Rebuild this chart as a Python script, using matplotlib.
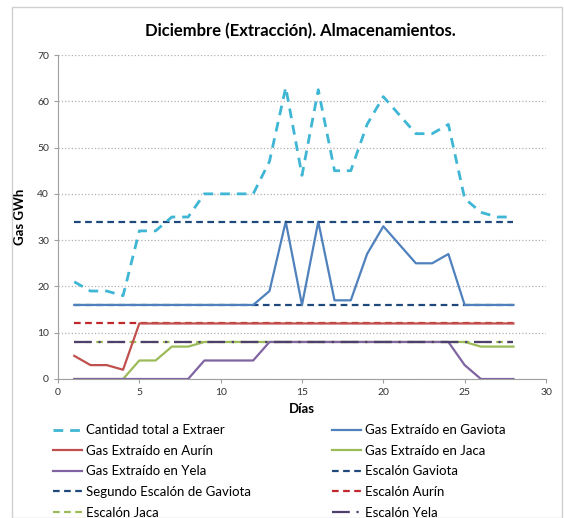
import matplotlib
matplotlib.use("Agg")
import matplotlib.pyplot as plt
from matplotlib.patches import Rectangle

plt.rcParams['font.family'] = ['Lato', 'DejaVu Sans']

dias = list(range(1, 29))

total_extraer = [21, 19, 19, 18, 32, 32, 35, 35, 40, 40, 40, 40, 47, 63,
                 44, 62.5, 45, 45, 55, 61, 57, 53, 53, 55, 39, 36, 35, 35]
gaviota = [16, 16, 16, 16, 16, 16, 16, 16, 16, 16, 16, 16, 19, 34,
           16, 34, 17, 17, 27, 33, 29, 25, 25, 27, 16, 16, 16, 16]
aurin = [5, 3, 3, 2, 12, 12, 12, 12, 12, 12, 12, 12, 12, 12,
         12, 12, 12, 12, 12, 12, 12, 12, 12, 12, 12, 12, 12, 12]
jaca = [0, 0, 0, 0, 4, 4, 7, 7, 8, 8, 8, 8, 8, 8,
        8, 8, 8, 8, 8, 8, 8, 8, 8, 8, 8, 7, 7, 7]
yela = [0, 0, 0, 0, 0, 0, 0, 0, 4, 4, 4, 4, 8, 8,
        8, 8, 8, 8, 8, 8, 8, 8, 8, 8, 3, 0, 0, 0]

escalon_gaviota = 34
segundo_escalon_gaviota = 16
escalon_aurin = 12
escalon_jaca = 8
escalon_yela = 8

fig = plt.figure(figsize=(5.64, 5.18), dpi=100)
ax = fig.add_axes([58 / 564, 1 - 379 / 518, (546 - 58) / 564, (379 - 55) / 518])

# chart frame
fig.patches.append(Rectangle((12 / 564, 0), (562 - 12) / 564, 1 - 7 / 518,
                             transform=fig.transFigure, fill=False,
                             edgecolor='#d0d0d0', linewidth=1.0))

def flat(v):
    return [v] * len(dias)

lw = 1.6
h_esc_jaca, = ax.plot(dias, flat(escalon_jaca), color='#9bbb59', lw=lw,
                      linestyle=(0, (3, 2)), label='Escalón Jaca')
h_jaca, = ax.plot(dias, jaca, color='#9bbb59', lw=lw, label='Gas Extraído en Jaca')
h_yela, = ax.plot(dias, yela, color='#8064a2', lw=lw, label='Gas Extraído en Yela')
h_esc_yela, = ax.plot(dias, flat(escalon_yela), color='#4f3f6e', lw=lw,
                      linestyle=(0, (8, 3, 1, 3)), label='Escalón Yela')
h_seg, = ax.plot(dias, flat(segundo_escalon_gaviota), color='#1f497d', lw=lw,
                 linestyle=(0, (3, 2)), label='Segundo Escalón de Gaviota')
h_gav, = ax.plot(dias, gaviota, color='#4f81bd', lw=lw, label='Gas Extraído en Gaviota')
h_esc_aur, = ax.plot(dias, flat(escalon_aurin), color='#c0282d', lw=lw,
                     linestyle=(0, (3, 2)), label='Escalón Aurín')
h_aur, = ax.plot(dias, aurin, color='#c0504d', lw=lw, label='Gas Extraído en Aurín')
h_esc_gav, = ax.plot(dias, flat(escalon_gaviota), color='#1f497d', lw=lw,
                     linestyle=(0, (3, 2)), label='Escalón Gaviota')
h_total, = ax.plot(dias, total_extraer, color='#3fb6d4', lw=2.0,
                   linestyle=(0, (3.5, 2.5)), label='Cantidad total a Extraer')

ax.set_xlim(0, 30)
ax.set_ylim(0, 70)
ax.set_xticks(range(0, 31, 5))
ax.set_yticks(range(0, 71, 10))
ax.grid(axis='y', color='#b0b0b0', linestyle=':', linewidth=0.9)
ax.set_axisbelow(True)
for side in ('top', 'right'):
    ax.spines[side].set_visible(False)
for side in ('left', 'bottom'):
    ax.spines[side].set_color('#a0a0a0')
ax.tick_params(axis='both', labelsize=7.5, colors='#a0a0a0', labelcolor='#333333',
               length=3, direction='out')

ax.set_xlabel('Días', fontsize=9.5, fontweight='bold', labelpad=4)
ax.set_ylabel('Gas GWh', fontsize=9.5, fontweight='bold', labelpad=8)
fig.text(300 / 564, 1 - 31 / 518, 'Diciembre (Extracción). Almacenamientos.',
         ha='center', va='center', fontsize=12, fontweight='bold')

handles = [h_total, h_aur, h_yela, h_seg, h_esc_jaca,
           h_gav, h_jaca, h_esc_gav, h_esc_aur, h_esc_yela]
fig.legend(handles=handles, labels=[h.get_label() for h in handles],
           ncol=2, loc='upper left', bbox_to_anchor=(48 / 564, 1 - 419 / 518),
           frameon=False, fontsize=9.5, handlelength=2.2, handletextpad=0.3,
           columnspacing=6.1, labelspacing=0.65, borderaxespad=0)

fig.savefig('out.png', dpi=100)
